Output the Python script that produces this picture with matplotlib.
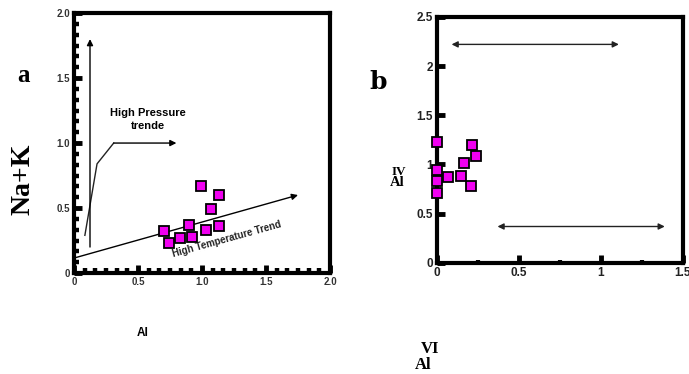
import matplotlib
matplotlib.use("Agg")
import matplotlib.pyplot as plt
from matplotlib.ticker import MultipleLocator, FixedLocator

# panel a : Al vs Na+K
al_a = [0.705, 0.745, 0.83, 0.90, 0.92, 0.99, 1.03, 1.07, 1.13, 1.13]
nak_a = [0.32, 0.23, 0.27, 0.37, 0.28, 0.67, 0.33, 0.49, 0.60, 0.36]

# panel b : AlVI vs AlIV
alvi_b = [0.0, 0.0, 0.0, 0.0, 0.07, 0.145, 0.165, 0.207, 0.213, 0.24]
aliv_b = [1.23, 0.945, 0.83, 0.71, 0.87, 0.88, 1.02, 0.78, 1.20, 1.09]

# trend lines (panel a)
hp_kink_x = [0.085, 0.18, 0.31]
hp_kink_y = [0.29, 0.84, 1.0]
hp_arrow_end = (0.8, 1.0)
hp_vert = [(0.125, 0.2), (0.125, 1.8)]
ht_line = [(0.0, 0.115), (1.75, 0.60)]

# double arrows (panel b)
b_arrow_top = [(0.09, 2.22), (1.11, 2.22)]
b_arrow_low = [(0.37, 0.37), (1.39, 0.37)]

mag = '#f000f0'
fig = plt.figure(figsize=(6.89, 3.74), dpi=100)

def style_frame(ax):
    for s in ax.spines.values():
        s.set_linewidth(3)
        s.set_color('black')
    ax.tick_params(which='both', direction='in', color='black',
                   top=False, right=False, pad=3)

# ---------------- panel a ----------------
ax1 = fig.add_axes([0.1074, 0.270, 0.3716, 0.695])
ax1.set_xlim(0, 2.0)
ax1.set_ylim(0, 2.0)
style_frame(ax1)
ax1.xaxis.set_major_locator(FixedLocator([0, 0.5, 1.0, 1.5, 2.0]))
ax1.yaxis.set_major_locator(FixedLocator([0, 0.5, 1.0, 1.5, 2.0]))
ax1.xaxis.set_minor_locator(MultipleLocator(0.5 / 6))
ax1.yaxis.set_minor_locator(MultipleLocator(0.5 / 6))
ax1.tick_params(which='major', length=5.5, width=3.5)
ax1.tick_params(which='minor', length=3.5, width=3.2)
ax1.set_xticklabels(['0', '0.5', '1.0', '1.5', '2.0'])
ax1.set_yticklabels(['0', '0.5', '1.0', '1.5', '2.0'])
for lab in ax1.get_xticklabels() + ax1.get_yticklabels():
    lab.set_fontsize(7)
    lab.set_fontweight('bold')
    lab.set_fontfamily('Liberation Sans')
    lab.set_color('#333333')

ax1.plot(al_a, nak_a, 's', ms=7.5, mfc=mag, mec='black', mew=1.3, zorder=5)

arr = dict(arrowstyle='-|>', lw=1, color='black', mutation_scale=9,
           shrinkA=0, shrinkB=0)
ax1.annotate('', xy=hp_vert[1], xytext=hp_vert[0], arrowprops=arr)
ax1.plot(hp_kink_x, hp_kink_y, color='#222222', lw=1)
ax1.annotate('', xy=hp_arrow_end, xytext=(hp_kink_x[-1], hp_kink_y[-1]),
             arrowprops=arr)
ax1.annotate('', xy=ht_line[1], xytext=ht_line[0], arrowprops=arr)

ax1.text(0.58, 1.18, 'High Pressure\ntrende', ha='center', va='center',
         fontsize=8, fontweight='bold', family='Liberation Sans',
         linespacing=1.3)
ax1.text(1.19, 0.262, 'High Temperature Trend', ha='center', va='center',
         rotation=15.5, fontsize=7, fontweight='bold',
         family='Liberation Sans', color='#222222')

fig.text(23 / 689, 1 - 75 / 374, 'a', fontsize=18, fontweight='bold',
         family='Liberation Serif', ha='center', va='center')
fig.text(23 / 689, 1 - 179 / 374, 'Na+K', fontsize=20, fontweight='bold',
         family='Liberation Serif', ha='center', va='center', rotation=90)
fig.text(143 / 689, 1 - 333 / 374, 'Al', fontsize=8.5, fontweight='bold',
         family='Liberation Sans', ha='center', va='center')

# ---------------- panel b ----------------
ax2 = fig.add_axes([0.634, 0.297, 0.357, 0.658])
ax2.set_xlim(0, 1.5)
ax2.set_ylim(0, 2.5)
style_frame(ax2)
ax2.xaxis.set_major_locator(FixedLocator([0, 0.5, 1, 1.5]))
ax2.xaxis.set_minor_locator(FixedLocator([0.25, 0.75, 1.25]))
ax2.yaxis.set_major_locator(FixedLocator([0, 0.5, 1, 1.5, 2, 2.5]))
ax2.tick_params(which='major', length=6, width=3.5)
ax2.tick_params(which='minor', length=2.5, width=3)
ax2.set_xticklabels(['0', '0.5', '1', '1.5'])
ax2.set_yticklabels(['0', '0.5', '1', '1.5', '2', '2.5'])
for lab in ax2.get_xticklabels() + ax2.get_yticklabels():
    lab.set_fontsize(8.5)
    lab.set_fontweight('bold')
    lab.set_fontfamily('Liberation Sans')
    lab.set_color('#222222')

ax2.plot(alvi_b, aliv_b, 's', ms=7.5, mfc=mag, mec='black', mew=1.3,
         zorder=5, clip_on=False)

darr = dict(arrowstyle='<|-|>', lw=1, color='#222222', mutation_scale=9,
            shrinkA=0, shrinkB=0)
ax2.annotate('', xy=b_arrow_top[1], xytext=b_arrow_top[0], arrowprops=darr)
ax2.annotate('', xy=b_arrow_low[1], xytext=b_arrow_low[0], arrowprops=darr)

fig.text(378 / 689, 1 - 82 / 374, 'b', fontsize=18, fontweight='bold',
         family='DejaVu Serif', ha='center', va='center')
fig.text(399 / 689, 1 - 172 / 374, 'IV', fontsize=9.5, fontweight='bold',
         family='Liberation Serif', ha='center', va='center')
fig.text(397 / 689, 1 - 183 / 374, 'Al', fontsize=10.5, fontweight='bold',
         family='Liberation Serif', ha='center', va='center')
fig.text(430 / 689, 1 - 349 / 374, 'VI', fontsize=12, fontweight='bold',
         family='Liberation Serif', ha='center', va='center')
fig.text(423 / 689, 1 - 365 / 374, 'Al', fontsize=12, fontweight='bold',
         family='Liberation Serif', ha='center', va='center')

fig.savefig('out.png', dpi=100)
